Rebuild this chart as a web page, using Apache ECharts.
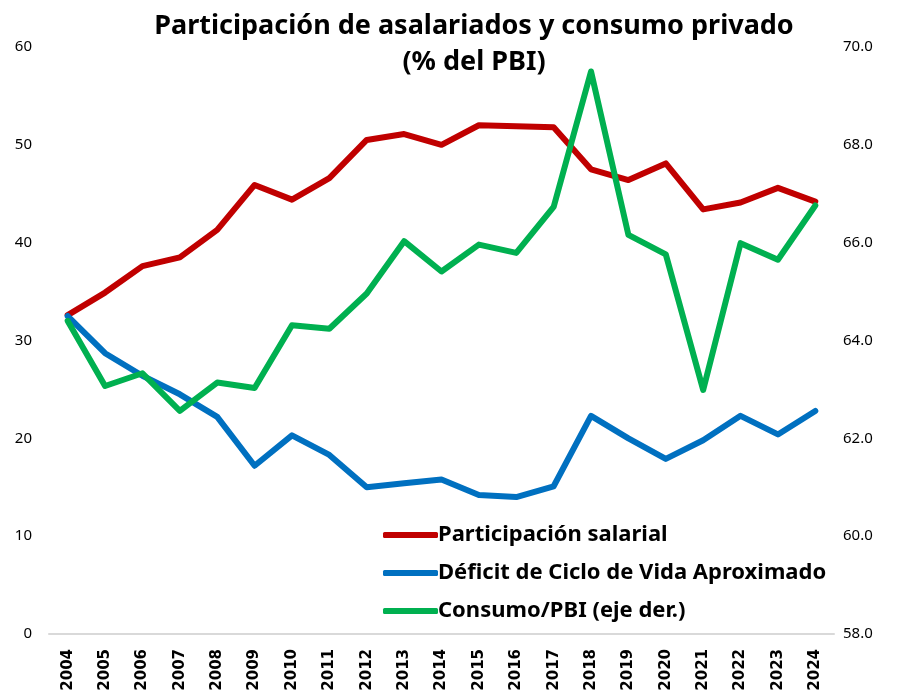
<!DOCTYPE html>
<html>
<head>
<meta charset="utf-8">
<script src="https://cdn.jsdelivr.net/npm/echarts@6/dist/echarts.min.js"></script>
<style>
  html, body { margin: 0; padding: 0; background: #fff; }
  #chart { width: 907px; height: 699px; }
</style>
</head>
<body>
<div id="chart"></div>
<script>
// años
const years = ['2004', '2005', '2006', '2007', '2008', '2009', '2010', '2011', '2012', '2013', '2014',
  '2015', '2016', '2017', '2018', '2019', '2020', '2021', '2022', '2023', '2024'];

// participación salarial (eje izq.)
const salarial = [32.6, 34.9, 37.6, 38.5, 41.3, 45.9, 44.4, 46.6, 50.5, 51.1, 50.0,
  52.0, 51.9, 51.8, 47.5, 46.4, 48.1, 43.4, 44.1, 45.6, 44.2];

// déficit de ciclo de vida (eje izq.)
const deficit = [32.5, 28.7, 26.4, 24.5, 22.2, 17.2, 20.3, 18.3, 15.0, 15.4, 15.8,
  14.2, 14.0, 15.1, 22.3, 20.0, 17.9, 19.8, 22.3, 20.4, 22.8];

// consumo/PBI (eje der.)
const consumo = [64.4, 63.07, 63.33, 62.56, 63.14, 63.03, 64.31, 64.24, 64.96, 66.03, 65.41,
  65.96, 65.79, 66.73, 69.5, 66.16, 65.76, 62.99, 65.99, 65.65, 66.76];

const leftTicks = { min: 0, max: 60, step: 10 };
const rightTicks = { min: 58, max: 70, step: 2 };

const FONT = '"Noto Sans", Roboto, sans-serif';

const chart = echarts.init(document.getElementById('chart'));

const mkLine = (name, data, color, axis) => ({
  name: name,
  type: 'line',
  yAxisIndex: axis,
  data: data,
  symbol: 'none',
  lineStyle: { color: color, width: 6, cap: 'round', join: 'round' },
  itemStyle: { color: color },
  z: axis === 1 ? 3 : 2
});

const option = {
  animation: false,
  title: {
    text: 'Participación de asalariados y consumo privado\n(% del PBI)',
    left: 469,
    textAlign: 'center',
    top: 3,
    textStyle: { fontFamily: FONT, fontWeight: 'bold', fontSize: 27, lineHeight: 36, color: '#000' }
  },
  legend: {
    orient: 'vertical',
    left: 378,
    top: 517,
    itemWidth: 55,
    itemHeight: 6,
    itemGap: 12,
    icon: 'roundRect',
    textStyle: { fontFamily: FONT, fontWeight: 'bold', fontSize: 22, lineHeight: 26, color: '#000', padding: [0, 0, 0, -5] },
    data: ['Participación salarial', 'Déficit de Ciclo de Vida Aproximado', 'Consumo/PBI (eje der.)']
  },
  grid: { left: 49, right: 73, top: 47, bottom: 65 },
  xAxis: {
    type: 'category',
    data: years,
    boundaryGap: true,
    axisLine: { lineStyle: { color: '#D9D9D9', width: 2 } },
    axisTick: { show: false },
    axisLabel: {
      rotate: 90,
      margin: 15,
      interval: 0,
      color: '#000',
      fontFamily: '"DejaVu Sans", sans-serif',
      fontWeight: 'bold',
      fontSize: 15
    }
  },
  yAxis: [
    {
      type: 'value',
      min: leftTicks.min,
      max: leftTicks.max,
      interval: leftTicks.step,
      splitLine: { show: false },
      axisLine: { show: false },
      axisTick: { show: false },
      axisLabel: { color: '#000', fontFamily: '"Noto Sans", sans-serif', fontSize: 15, margin: 17 }
    },
    {
      type: 'value',
      min: rightTicks.min,
      max: rightTicks.max,
      interval: rightTicks.step,
      splitLine: { show: false },
      axisLine: { show: false },
      axisTick: { show: false },
      axisLabel: {
        color: '#000', fontFamily: '"Noto Sans", sans-serif', fontSize: 15, margin: 9,
        formatter: v => v.toFixed(1)
      }
    }
  ],
  series: [
    mkLine('Participación salarial', salarial, '#C00000', 0),
    mkLine('Déficit de Ciclo de Vida Aproximado', deficit, '#0070C0', 0),
    mkLine('Consumo/PBI (eje der.)', consumo, '#00B050', 1)
  ]
};

chart.setOption(option);
</script>
</body>
</html>
